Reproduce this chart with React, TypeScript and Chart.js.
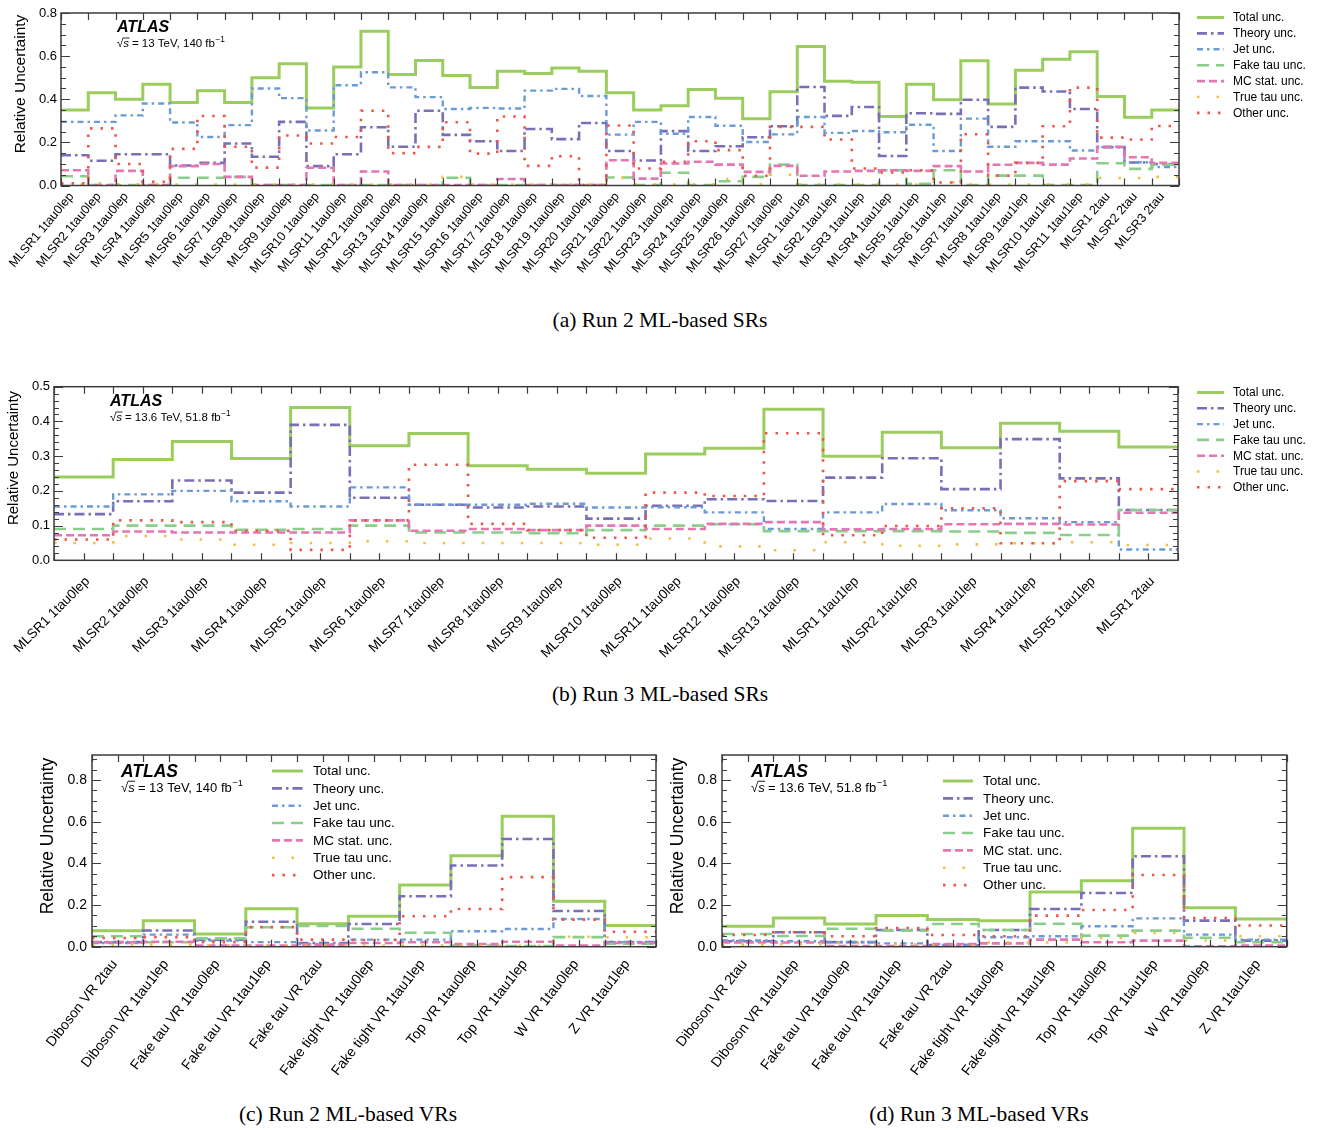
import React, { useEffect, useRef } from 'react';
import { Chart, registerables } from 'chart.js';
Chart.register(...registerables);

const SANS = "'Liberation Sans', Arial, Helvetica, sans-serif";
const SERIF = "'Liberation Serif', 'Times New Roman', serif";

const SERIES_NAMES = ['Total unc.', 'Theory unc.', 'Jet unc.', 'Fake tau unc.', 'MC stat. unc.', 'True tau unc.', 'Other unc.'];
const SERIES_COLORS = ['#9acd5e', '#7a6fb6', '#6b9bd6', '#8bce8b', '#e277b3', '#f6bd45', '#ee5647'];
const SERIES_WIDTHS = [3, 2.6, 2.4, 2.6, 2.6, 2.6, 2.6];
const SERIES_DASHES: number[][] = [[], [10, 4, 2.5, 4], [6, 4, 2.5, 4], [12, 7], [8, 4], [2.5, 17], [2.5, 8]];

// ---------- (a) Run 2 ML-based SRs ----------
const A_LABELS = [
  'MLSR1 1tau0lep', 'MLSR2 1tau0lep', 'MLSR3 1tau0lep', 'MLSR4 1tau0lep', 'MLSR5 1tau0lep', 'MLSR6 1tau0lep',
  'MLSR7 1tau0lep', 'MLSR8 1tau0lep', 'MLSR9 1tau0lep', 'MLSR10 1tau0lep', 'MLSR11 1tau0lep', 'MLSR12 1tau0lep',
  'MLSR13 1tau0lep', 'MLSR14 1tau0lep', 'MLSR15 1tau0lep', 'MLSR16 1tau0lep', 'MLSR17 1tau0lep', 'MLSR18 1tau0lep',
  'MLSR19 1tau0lep', 'MLSR20 1tau0lep', 'MLSR21 1tau0lep', 'MLSR22 1tau0lep', 'MLSR23 1tau0lep', 'MLSR24 1tau0lep',
  'MLSR25 1tau0lep', 'MLSR26 1tau0lep', 'MLSR27 1tau0lep',
  'MLSR1 1tau1lep', 'MLSR2 1tau1lep', 'MLSR3 1tau1lep', 'MLSR4 1tau1lep', 'MLSR5 1tau1lep', 'MLSR6 1tau1lep',
  'MLSR7 1tau1lep', 'MLSR8 1tau1lep', 'MLSR9 1tau1lep', 'MLSR10 1tau1lep', 'MLSR11 1tau1lep',
  'MLSR1 2tau', 'MLSR2 2tau', 'MLSR3 2tau',
];
const A_TOTAL = [0.35, 0.43, 0.40, 0.47, 0.385, 0.44, 0.385, 0.50, 0.565, 0.36, 0.55, 0.715, 0.515, 0.58, 0.51, 0.455, 0.53, 0.52, 0.545, 0.53, 0.43, 0.35, 0.37, 0.445, 0.405, 0.31, 0.435, 0.645, 0.483, 0.479, 0.32, 0.47, 0.398, 0.578, 0.378, 0.535, 0.585, 0.62, 0.413, 0.316, 0.35];
const A_THEORY = [0.14, 0.115, 0.145, 0.145, 0.093, 0.105, 0.195, 0.133, 0.295, 0.09, 0.145, 0.27, 0.18, 0.347, 0.235, 0.205, 0.16, 0.262, 0.215, 0.29, 0.16, 0.116, 0.252, 0.16, 0.182, 0.224, 0.275, 0.457, 0.323, 0.364, 0.137, 0.335, 0.332, 0.398, 0.272, 0.454, 0.436, 0.355, 0.178, 0.107, 0.1];
const A_JET = [0.295, 0.295, 0.325, 0.38, 0.292, 0.225, 0.28, 0.45, 0.405, 0.255, 0.465, 0.525, 0.455, 0.41, 0.355, 0.36, 0.357, 0.44, 0.448, 0.415, 0.236, 0.295, 0.24, 0.318, 0.277, 0.202, 0.237, 0.318, 0.244, 0.253, 0.247, 0.282, 0.16, 0.31, 0.18, 0.205, 0.205, 0.162, 0.178, 0.108, 0.086];
const A_FAKE = [0.043, 0.002, 0.002, 0.002, 0.036, 0.036, 0.04, 0.002, 0.002, 0.002, 0.002, 0.002, 0.002, 0.002, 0.036, 0.002, 0.002, 0.002, 0.002, 0.002, 0.037, 0.002, 0.059, 0.002, 0.02, 0.04, 0.097, 0.002, 0.002, 0.002, 0.071, 0.008, 0.071, 0.002, 0.046, 0.046, 0.002, 0.002, 0.103, 0.077, 0.097];
const A_MC = [0.071, 0.002, 0.068, 0.002, 0.09, 0.10, 0.04, 0.002, 0.002, 0.082, 0.002, 0.065, 0.002, 0.002, 0.002, 0.002, 0.03, 0.002, 0.002, 0.002, 0.117, 0.032, 0.102, 0.11, 0.097, 0.063, 0.091, 0.045, 0.065, 0.068, 0.071, 0.068, 0.09, 0.065, 0.096, 0.105, 0.097, 0.125, 0.179, 0.131, 0.105];
const A_TRUE = [0.004, 0.01, 0.004, 0.004, 0.004, 0.004, 0.004, 0.004, 0.004, 0.004, 0.004, 0.004, 0.004, 0.004, 0.04, 0.004, 0.004, 0.004, 0.004, 0.004, 0.035, 0.004, 0.004, 0.004, 0.03, 0.005, 0.05, 0.004, 0.004, 0.004, 0.004, 0.004, 0.015, 0.004, 0.004, 0.004, 0.004, 0.004, 0.035, 0.035, 0.04];
const A_OTHER = [0.01, 0.265, 0.10, 0.017, 0.17, 0.322, 0.18, 0.083, 0.232, 0.195, 0.225, 0.347, 0.15, 0.179, 0.293, 0.148, 0.32, 0.091, 0.136, 0.002, 0.278, 0.079, 0.11, 0.205, 0.164, 0.045, 0.272, 0.272, 0.213, 0.079, 0.06, 0.071, 0.014, 0.238, 0.046, 0.105, 0.275, 0.454, 0.222, 0.213, 0.276];

// ---------- (b) Run 3 ML-based SRs ----------
const B_LABELS = [
  'MLSR1 1tau0lep', 'MLSR2 1tau0lep', 'MLSR3 1tau0lep', 'MLSR4 1tau0lep', 'MLSR5 1tau0lep', 'MLSR6 1tau0lep',
  'MLSR7 1tau0lep', 'MLSR8 1tau0lep', 'MLSR9 1tau0lep', 'MLSR10 1tau0lep', 'MLSR11 1tau0lep', 'MLSR12 1tau0lep',
  'MLSR13 1tau0lep', 'MLSR1 1tau1lep', 'MLSR2 1tau1lep', 'MLSR3 1tau1lep', 'MLSR4 1tau1lep', 'MLSR5 1tau1lep',
  'MLSR1 2tau',
];
const B_TOTAL = [0.24, 0.29, 0.342, 0.293, 0.44, 0.33, 0.365, 0.272, 0.262, 0.251, 0.306, 0.323, 0.435, 0.30, 0.369, 0.324, 0.395, 0.372, 0.326];
const B_THEORY = [0.133, 0.17, 0.23, 0.195, 0.39, 0.18, 0.16, 0.152, 0.155, 0.12, 0.157, 0.176, 0.171, 0.238, 0.294, 0.205, 0.349, 0.236, 0.145];
const B_JET = [0.155, 0.19, 0.2, 0.17, 0.155, 0.21, 0.16, 0.16, 0.163, 0.152, 0.153, 0.138, 0.09, 0.138, 0.162, 0.144, 0.121, 0.11, 0.031];
const B_FAKE = [0.09, 0.1, 0.1, 0.088, 0.09, 0.1, 0.08, 0.08, 0.078, 0.087, 0.1, 0.104, 0.084, 0.084, 0.084, 0.083, 0.079, 0.073, 0.145];
const B_MC = [0.072, 0.083, 0.08, 0.08, 0.08, 0.115, 0.085, 0.09, 0.087, 0.1, 0.09, 0.105, 0.11, 0.089, 0.09, 0.104, 0.105, 0.103, 0.137];
const B_TRUE = [0.05, 0.07, 0.06, 0.045, 0.05, 0.055, 0.05, 0.05, 0.05, 0.045, 0.063, 0.04, 0.029, 0.052, 0.042, 0.046, 0.049, 0.052, 0.044];
const B_OTHER = [0.06, 0.115, 0.11, 0.085, 0.03, 0.115, 0.275, 0.105, 0.087, 0.065, 0.195, 0.185, 0.366, 0.072, 0.099, 0.15, 0.049, 0.228, 0.205];

// ---------- (c) Run 2 / (d) Run 3 ML-based VRs ----------
const VR_LABELS = [
  'Diboson VR 2tau', 'Diboson VR 1tau1lep', 'Fake tau VR 1tau0lep', 'Fake tau VR 1tau1lep', 'Fake tau VR 2tau',
  'Fake tight VR 1tau0lep', 'Fake tight VR 1tau1lep', 'Top VR 1tau0lep', 'Top VR 1tau1lep', 'W VR 1tau0lep', 'Z VR 1tau1lep',
];
const C_TOTAL = [0.077, 0.125, 0.061, 0.182, 0.11, 0.146, 0.296, 0.437, 0.626, 0.218, 0.102];
const C_THEORY = [0.022, 0.078, 0.034, 0.12, 0.018, 0.109, 0.242, 0.39, 0.517, 0.171, 0.022];
const C_JET = [0.018, 0.058, 0.029, 0.022, 0.013, 0.034, 0.034, 0.074, 0.085, 0.133, 0.022];
const C_FAKE = [0.05, 0.021, 0.04, 0.093, 0.1, 0.086, 0.067, 0.005, 0.003, 0.046, 0.014];
const C_MC = [0.021, 0.024, 0.005, 0.005, 0.01, 0.018, 0.021, 0.013, 0.024, 0.005, 0.018];
const C_TRUE = [0.008, 0.01, 0.006, 0.004, 0.005, 0.006, 0.005, 0.004, 0.004, 0.048, 0.045];
const C_OTHER = [0.042, 0.046, 0.022, 0.094, 0.034, 0.032, 0.146, 0.181, 0.334, 0.13, 0.072];

const D_TOTAL = [0.098, 0.138, 0.109, 0.15, 0.13, 0.125, 0.262, 0.317, 0.568, 0.187, 0.133];
const D_THEORY = [0.026, 0.069, 0.022, 0.08, 0.008, 0.08, 0.181, 0.258, 0.434, 0.125, 0.029];
const D_JET = [0.03, 0.026, 0.021, 0.016, 0.008, 0.045, 0.05, 0.098, 0.136, 0.058, 0.034];
const D_FAKE = [0.061, 0.051, 0.086, 0.077, 0.109, 0.08, 0.11, 0.053, 0.077, 0.043, 0.021];
const D_MC = [0.02, 0.02, 0.003, 0.003, 0.013, 0.016, 0.034, 0.021, 0.029, 0.002, 0.006];
const D_TRUE = [0.01, 0.012, 0.018, 0.012, 0.005, 0.02, 0.02, 0.042, 0.066, 0.03, 0.05];
const D_OTHER = [0.056, 0.069, 0.05, 0.09, 0.056, 0.05, 0.149, 0.176, 0.344, 0.138, 0.102];

const Y_TITLE = 'Relative Uncertainty';

type PanelCfg = {
  key: string;
  left: number; top: number; width: number; height: number;
  area: { l: number; t: number; r: number; b: number };
  labels: string[];
  series: number[][];
  yMax: number; yMajor: number; yMinor: number;
  halfTicks: boolean;
  tickFont: number; tickGap: number;
  xFont: number; xAngle: number; xDx: number; xDy: number;
  titleFont: number; titleX: number; titleY: number;
  legend: { x0: number; x1: number; tx: number; y0: number; dy: number; font: number };
  atlas: { x: number; y: number; size: number; subY: number; subSize: number; rest: string };
};

const PANELS: PanelCfg[] = [
  {
    key: 'a', left: 0, top: 0, width: 1320, height: 300,
    area: { l: 61, t: 13, r: 1179, b: 185.5 },
    labels: A_LABELS, series: [A_TOTAL, A_THEORY, A_JET, A_FAKE, A_MC, A_TRUE, A_OTHER],
    yMax: 0.8, yMajor: 0.2, yMinor: 0.05, halfTicks: false,
    tickFont: 13, tickGap: 4,
    xFont: 12.5, xAngle: 50, xDx: -3, xDy: 9,
    titleFont: 15.5, titleX: 21, titleY: 84,
    legend: { x0: 1197, x1: 1224, tx: 1233, y0: 17.5, dy: 15.9, font: 12 },
    atlas: { x: 117, y: 28, size: 16, subY: 44, subSize: 11.5, rest: '= 13 TeV, 140 fb' },
  },
  {
    key: 'b', left: 0, top: 370, width: 1320, height: 300,
    area: { l: 54, t: 386.7, r: 1178, b: 560.3 },
    labels: B_LABELS, series: [B_TOTAL, B_THEORY, B_JET, B_FAKE, B_MC, B_TRUE, B_OTHER],
    yMax: 0.5, yMajor: 0.1, yMinor: 0.02, halfTicks: true,
    tickFont: 13, tickGap: 4,
    xFont: 13.5, xAngle: 45, xDx: 4, xDy: 19,
    titleFont: 15, titleX: 14, titleY: 458,
    legend: { x0: 1197, x1: 1224, tx: 1233, y0: 392.5, dy: 15.8, font: 12 },
    atlas: { x: 110, y: 401.7, size: 16, subY: 418, subSize: 11.5, rest: '= 13.6 TeV, 51.8 fb' },
  },
  {
    key: 'c', left: 0, top: 740, width: 660, height: 360,
    area: { l: 92, t: 755, r: 656, b: 946.7 },
    labels: VR_LABELS, series: [C_TOTAL, C_THEORY, C_JET, C_FAKE, C_MC, C_TRUE, C_OTHER],
    yMax: 0.92, yMajor: 0.2, yMinor: 0.05, halfTicks: true,
    tickFont: 14, tickGap: 5,
    xFont: 14, xAngle: 52, xDx: -3, xDy: 15,
    titleFont: 17.5, titleX: 48, titleY: 836,
    legend: { x0: 272, x1: 303, tx: 313, y0: 771, dy: 17.35, font: 13.5 },
    atlas: { x: 121, y: 771.7, size: 17.5, subY: 788, subSize: 13, rest: '= 13 TeV, 140 fb' },
  },
  {
    key: 'd', left: 660, top: 740, width: 660, height: 360,
    area: { l: 722, t: 755, r: 1286.7, b: 946.7 },
    labels: VR_LABELS, series: [D_TOTAL, D_THEORY, D_JET, D_FAKE, D_MC, D_TRUE, D_OTHER],
    yMax: 0.92, yMajor: 0.2, yMinor: 0.05, halfTicks: true,
    tickFont: 14, tickGap: 5,
    xFont: 14, xAngle: 52, xDx: -3, xDy: 15,
    titleFont: 17.5, titleX: 678, titleY: 836,
    legend: { x0: 943, x1: 973, tx: 983, y0: 781, dy: 17.35, font: 13.5 },
    atlas: { x: 751, y: 771.7, size: 17.5, subY: 788, subSize: 13, rest: '= 13.6 TeV, 51.8 fb' },
  },
];

const CAPTIONS = [
  { text: '(a) Run 2 ML-based SRs', cx: 660, cy: 320 },
  { text: '(b) Run 3 ML-based SRs', cx: 660, cy: 694 },
  { text: '(c) Run 2 ML-based VRs', cx: 348, cy: 1114 },
  { text: '(d) Run 3 ML-based VRs', cx: 979, cy: 1114 },
];

const AXIS_COLOR = '#3c3c3c';

function makeDecor(p: PanelCfg) {
  return {
    id: 'atlasDecor_' + p.key,
    afterDraw(chart: any) {
      const ctx: CanvasRenderingContext2D = chart.ctx;
      const { left, right, top, bottom } = chart.chartArea;
      const xs = chart.scales.x;
      const ys = chart.scales.y;
      const ox = p.left, oy = p.top;
      const n = p.labels.length;
      ctx.save();
      // frame
      ctx.strokeStyle = AXIS_COLOR;
      ctx.lineWidth = 1.5;
      ctx.setLineDash([]);
      ctx.strokeRect(left, top, right - left, bottom - top);
      // y ticks
      const nMinor = Math.round(p.yMax / p.yMinor + 1e-6);
      ctx.lineWidth = 1.2;
      ctx.fillStyle = '#000';
      ctx.font = `${p.tickFont}px ${SANS}`;
      ctx.textAlign = 'right';
      ctx.textBaseline = 'middle';
      for (let i = 0; i <= nMinor; i++) {
        const v = i * p.yMinor;
        const ratio = v / p.yMajor;
        const major = Math.abs(ratio - Math.round(ratio)) < 1e-6;
        const y = Math.round(ys.getPixelForValue(v)) + 0.5;
        const len = major ? 9 : 5;
        ctx.beginPath();
        ctx.moveTo(left, y); ctx.lineTo(left + len, y);
        ctx.moveTo(right, y); ctx.lineTo(right - len, y);
        ctx.stroke();
        if (major) ctx.fillText(v.toFixed(1), left - p.tickGap, ys.getPixelForValue(v));
      }
      // x ticks
      const step = p.halfTicks ? 0.5 : 1;
      for (let v = 0; v <= n + 1e-9; v += step) {
        const x = Math.round(xs.getPixelForValue(v)) + 0.5;
        ctx.beginPath();
        ctx.moveTo(x, bottom); ctx.lineTo(x, bottom - 7);
        ctx.moveTo(x, top); ctx.lineTo(x, top + 7);
        ctx.stroke();
      }
      // x labels
      ctx.font = `${p.xFont}px ${SANS}`;
      ctx.textAlign = 'right';
      ctx.textBaseline = 'middle';
      const ang = (p.xAngle * Math.PI) / 180;
      p.labels.forEach((lab, i) => {
        const cx = xs.getPixelForValue(i + 0.5);
        ctx.save();
        ctx.translate(cx + p.xDx, bottom + p.xDy);
        ctx.rotate(-ang);
        ctx.fillText(lab, 0, 0);
        ctx.restore();
      });
      // y title
      ctx.save();
      ctx.translate(p.titleX - ox, p.titleY - oy);
      ctx.rotate(-Math.PI / 2);
      ctx.font = `${p.titleFont}px ${SANS}`;
      ctx.textAlign = 'center';
      ctx.textBaseline = 'middle';
      ctx.fillText(Y_TITLE, 0, 0);
      ctx.restore();
      // legend
      const L = p.legend;
      for (let i = 0; i < SERIES_NAMES.length; i++) {
        const y = L.y0 + i * L.dy - oy;
        ctx.beginPath();
        ctx.strokeStyle = SERIES_COLORS[i];
        ctx.lineWidth = SERIES_WIDTHS[i];
        ctx.setLineDash(SERIES_DASHES[i]);
        ctx.moveTo(L.x0 - ox, y);
        ctx.lineTo(L.x1 - ox, y);
        ctx.stroke();
        ctx.setLineDash([]);
        ctx.fillStyle = '#000';
        ctx.font = `${L.font}px ${SANS}`;
        ctx.textAlign = 'left';
        ctx.textBaseline = 'middle';
        ctx.fillText(SERIES_NAMES[i], L.tx - ox, y + 0.5);
      }
      // ATLAS label
      const A = p.atlas;
      ctx.fillStyle = '#000';
      ctx.textAlign = 'left';
      ctx.textBaseline = 'middle';
      ctx.font = `italic bold ${A.size}px ${SANS}`;
      ctx.fillText('ATLAS', A.x - ox, A.y - oy);
      // sqrt(s) line
      let x = A.x - ox;
      const y = A.subY - oy;
      const s = A.subSize;
      ctx.font = `${s}px ${SANS}`;
      ctx.fillText('\u221A', x, y);
      x += ctx.measureText('\u221A').width;
      ctx.font = `italic ${s}px ${SANS}`;
      const sw = ctx.measureText('s').width;
      ctx.fillText('s', x, y);
      ctx.strokeStyle = '#000';
      ctx.lineWidth = Math.max(0.8, s * 0.07);
      ctx.beginPath();
      ctx.moveTo(x - 0.5, y - s * 0.52);
      ctx.lineTo(x + sw + 0.5, y - s * 0.52);
      ctx.stroke();
      x += sw + s * 0.25;
      ctx.font = `${s}px ${SANS}`;
      ctx.fillText(A.rest, x, y);
      x += ctx.measureText(A.rest).width;
      ctx.font = `${s * 0.72}px ${SANS}`;
      ctx.fillText('\u22121', x + 0.5, y - s * 0.38);
      ctx.restore();
    },
  };
}

function Panel({ cfg }: { cfg: PanelCfg }) {
  const ref = useRef<HTMLCanvasElement>(null);
  useEffect(() => {
    const canvas = ref.current;
    if (!canvas) return;
    const n = cfg.labels.length;
    const datasets = cfg.series.map((vals, i) => ({
      label: SERIES_NAMES[i],
      data: [...vals.map((v, k) => ({ x: k, y: v })), { x: n, y: vals[n - 1] }],
      borderColor: SERIES_COLORS[i],
      borderWidth: SERIES_WIDTHS[i],
      borderDash: SERIES_DASHES[i],
      borderCapStyle: 'butt' as const,
      borderJoinStyle: 'miter' as const,
      stepped: 'before' as const,
      pointRadius: 0,
      pointHoverRadius: 0,
      fill: false,
      tension: 0,
      order: -i,
    }));
    const a = cfg.area;
    const chart = new Chart(canvas, {
      type: 'line',
      data: { datasets },
      options: {
        animation: false,
        responsive: false,
        maintainAspectRatio: false,
        devicePixelRatio: 1,
        events: [],
        layout: {
          padding: {
            left: a.l - cfg.left,
            top: a.t - cfg.top,
            right: cfg.left + cfg.width - a.r,
            bottom: cfg.top + cfg.height - a.b,
          },
        },
        plugins: { legend: { display: false }, tooltip: { enabled: false }, title: { display: false } },
        scales: {
          x: { type: 'linear', min: 0, max: n, display: false },
          y: { type: 'linear', min: 0, max: cfg.yMax, display: false },
        },
      },
      plugins: [makeDecor(cfg)],
    } as any);
    return () => chart.destroy();
  }, [cfg]);
  return (
    <canvas
      ref={ref}
      width={cfg.width}
      height={cfg.height}
      style={{ position: 'absolute', left: cfg.left, top: cfg.top, width: cfg.width, height: cfg.height }}
    />
  );
}

export default function App() {
  return (
    <div style={{ position: 'absolute', left: 0, top: 0, width: 1320, height: 1130, background: '#fff', overflow: 'hidden' }}>
      {PANELS.map((p) => (
        <Panel key={p.key} cfg={p} />
      ))}
      {CAPTIONS.map((c) => (
        <div
          key={c.text}
          style={{
            position: 'absolute',
            left: c.cx - 300,
            width: 600,
            top: c.cy - 13,
            height: 26,
            lineHeight: '26px',
            textAlign: 'center',
            fontFamily: SERIF,
            fontSize: 21.5,
            color: '#000',
          }}
        >
          {c.text}
        </div>
      ))}
    </div>
  );
}
